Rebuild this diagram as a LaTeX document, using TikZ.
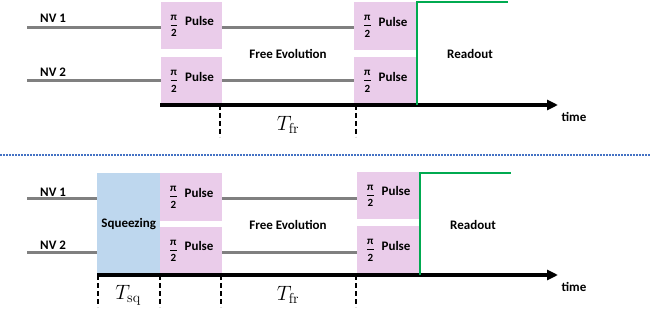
\documentclass[tikz,border=0pt]{standalone}
\usepackage{amsmath}
\usepackage[no-math]{fontspec}
\setmainfont{Carlito}
\usetikzlibrary{arrows.meta}
\definecolor{pinkc}{RGB}{234,204,234}
\definecolor{bluec}{RGB}{190,215,238}
\definecolor{wirec}{RGB}{128,128,128}
\definecolor{greenc}{RGB}{0,170,80}
\definecolor{dotc}{RGB}{68,114,196}
\newcommand\lblfont{\fontsize{13}{15}\selectfont\bfseries}
\newcommand\fracpart[1]{\mbox{\fontsize{11}{12}\selectfont\bfseries #1}}
\newcommand\halfpi{\raisebox{-2.5pt}{$\genfrac{}{}{0.9pt}{0}{\fracpart{π}}{\fracpart{2}}$}\hspace{4pt}}
\newcommand\tlabel[1]{\fontsize{22}{26}\selectfont$#1$}
\tikzset{
  pulse/.style={fill=pinkc, anchor=north west, inner sep=0pt, font=\lblfont},
  sqz/.style={fill=bluec, anchor=north west, inner sep=0pt, font=\lblfont},
  lbl/.style={inner sep=0pt, font=\lblfont},
  wire/.style={line width=3pt, draw=wirec},
  timeaxis/.style={line width=3.2pt, -{Triangle[length=11pt,width=10pt]}},
  tickline/.style={line width=1.7pt, dash pattern=on 5pt off 3pt},
  readline/.style={line width=2.2pt, draw=greenc},
  sep/.style={line width=1.5pt, draw=dotc, dash pattern=on 1.5pt off 1.5pt},
}
\begin{document}
\begin{tikzpicture}[x=1pt,y=-1pt]
\useasboundingbox (0,0) rectangle (650,320);
% ---------- top panel ----------
\node[pulse, minimum width=61pt, minimum height=47pt] (pa1) at (161,2) {\halfpi\ Pulse};
\node[pulse, minimum width=61pt, minimum height=48pt] (pa2) at (161,57) {\halfpi\ Pulse};
\node[pulse, minimum width=62pt, minimum height=48pt] (pb1) at (354,2) {\halfpi\ Pulse};
\node[pulse, minimum width=62pt, minimum height=48pt] (pb2) at (354,57) {\halfpi\ Pulse};
\coordinate (s1) at (27,28);
\coordinate (s2) at (27,81);
\draw[wire] (s1) -- (s1 -| pa1.west);
\draw[wire] (s1 -| pa1.east) -- (s1 -| pb1.west);
\draw[wire] (s2) -- (s2 -| pa2.west);
\draw[wire] (s2 -| pa2.east) -- (s2 -| pb2.west);
\node[lbl, anchor=west] (nv1a) at (40,18) {NV 1};
\node[lbl, anchor=west] (nv2a) at (40,72) {NV 2};
\node[lbl] (fea) at (288,54) {Free Evolution};
\node[lbl] (roa) at (470,54) {Readout};
\node[lbl] (tia) at (574,117) {time};
\coordinate (ax0) at (160,105);
\coordinate (ax1) at (558,105);
\draw[timeaxis] (ax0) -- (ax1);
\coordinate (ga0) at (417,105);
\coordinate (ga1) at (508,2);
\draw[readline] (ga0) |- (ga1);
\coordinate (da1) at (220,105);
\coordinate (da2) at (356,105);
\draw[tickline] (da1) -- ++(0,32);
\draw[tickline] (da2) -- ++(0,32);
\node[inner sep=0pt] (tfra) at (288,125) {\tlabel{T_{\mathrm{fr}}}};
% ---------- separator ----------
\coordinate (sep0) at (0,155);
\coordinate (sep1) at (650,155);
\draw[sep] (sep0) -- (sep1);
% ---------- bottom panel ----------
\node[sqz, minimum width=63pt, minimum height=101pt] (sq) at (97,173) {Squeezing};
\node[pulse, minimum width=62pt, minimum height=48pt] (pc1) at (160,173) {\halfpi\ Pulse};
\node[pulse, minimum width=62pt, minimum height=47pt] (pc2) at (160,227) {\halfpi\ Pulse};
\node[pulse, minimum width=62pt, minimum height=47pt] (pd1) at (357,172) {\halfpi\ Pulse};
\node[pulse, minimum width=62pt, minimum height=48pt] (pd2) at (357,226) {\halfpi\ Pulse};
\coordinate (s3) at (27,199);
\coordinate (s4) at (27,253);
\draw[wire] (s3) -- (s3 -| sq.west);
\draw[wire] (s3 -| pc1.east) -- (s3 -| pd1.west);
\draw[wire] (s4) -- (s4 -| sq.west);
\draw[wire] (s4 -| pc2.east) -- (s4 -| pd2.west);
\node[lbl, anchor=west] (nv1b) at (40,192) {NV 1};
\node[lbl, anchor=west] (nv2b) at (40,245) {NV 2};
\node[lbl] (feb) at (288,225) {Free Evolution};
\node[lbl] (rob) at (473,225) {Readout};
\node[lbl] (tib) at (574,287) {time};
\coordinate (bx0) at (97,275);
\coordinate (bx1) at (558,275);
\draw[timeaxis] (bx0) -- (bx1);
\coordinate (gb0) at (420,275);
\coordinate (gb1) at (511,173);
\draw[readline] (gb0) |- (gb1);
\coordinate (db1) at (98,275);
\coordinate (db2) at (160,275);
\coordinate (db3) at (221,275);
\coordinate (db4) at (356,275);
\draw[tickline] (db1) -- ++(0,32);
\draw[tickline] (db2) -- ++(0,32);
\draw[tickline] (db3) -- ++(0,32);
\draw[tickline] (db4) -- ++(0,32);
\node[inner sep=0pt] (tsqb) at (128,295) {\tlabel{T_{\mathrm{sq}}}};
\node[inner sep=0pt] (tfrb) at (288,295) {\tlabel{T_{\mathrm{fr}}}};
\end{tikzpicture}
\end{document}
